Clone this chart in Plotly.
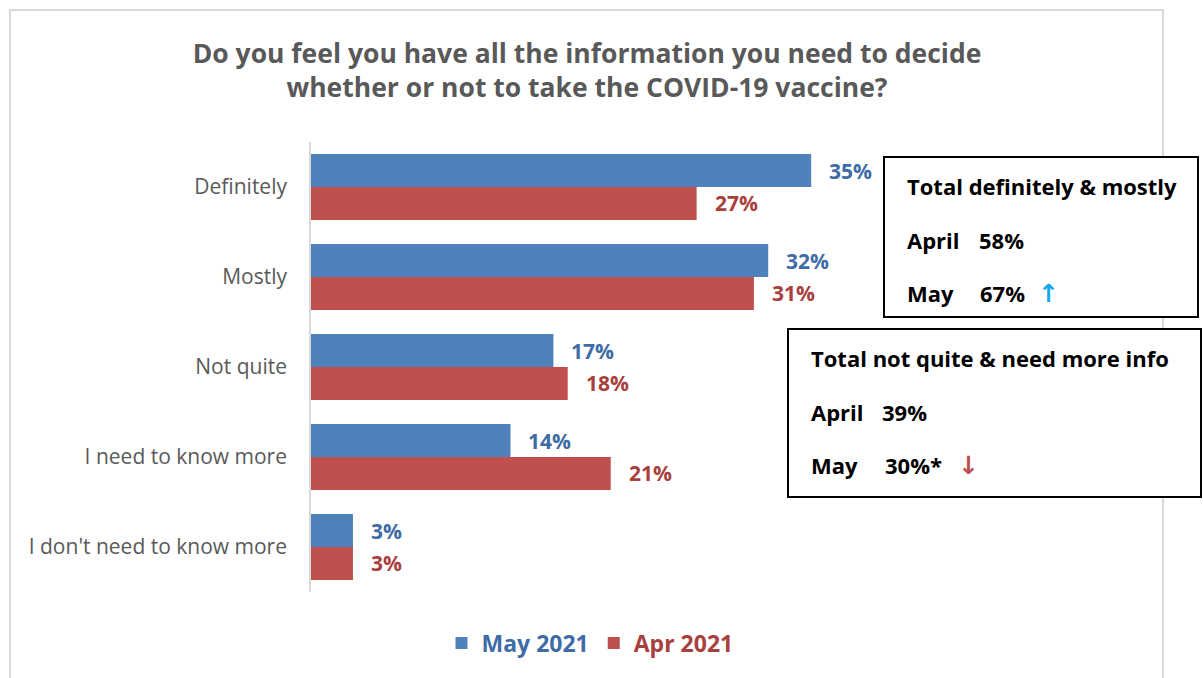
import plotly.graph_objects as go

# Survey responses, share of respondents (%)
categories = ["Definitely", "Mostly", "Not quite", "I need to know more", "I don't need to know more"]
may_2021 = [35, 32, 17, 14, 3]
apr_2021 = [27, 31, 18, 21, 3]

series_names = ["May 2021", "Apr 2021"]
bar_colors = ["#4F81BD", "#C0504D"]
label_colors = ["#3E6CA6", "#A8403D"]

box_titles = ["Total definitely & mostly", "Total not quite & need more info"]
box_april = ["58%", "39%"]
box_may = ["67%", "30%*"]
box_arrows = ["↑", "↓"]
arrow_colors = ["#14A8EC", "#C0504D"]

FONT = "Open Sans"
W, H = 1203, 678
L, R, T, B = 310, 41, 142, 86


def px(x):
    return (x - L) / (W - L - R)


def py(y):
    return (H - B - y) / (H - T - B)


fig = go.Figure()
for name, vals, col, lcol in zip(series_names, [may_2021, apr_2021], bar_colors, label_colors):
    fig.add_trace(go.Bar(
        y=categories, x=vals, orientation="h", name=f"<b><span style='color:{lcol}'>{name}</span></b>",
        marker=dict(color=col, line=dict(width=0)),
    ))

# value labels to the right of each bar
for vals, lcol, off in [(may_2021, label_colors[0], -0.183), (apr_2021, label_colors[1], 0.183)]:
    for c, v in zip(categories, vals):
        fig.add_annotation(
            x=v, y=c, yshift=-off * 90, xanchor="left", xshift=16, showarrow=False,
            text=f"<b>{v}%</b>", font=dict(family=FONT, size=21, color=lcol),
        )

shapes = [
    # outer chart frame
    dict(type="rect", xref="paper", yref="paper", x0=px(10), x1=px(1163), y0=py(700), y1=py(10),
         line=dict(color="#D9D9D9", width=2), fillcolor="rgba(0,0,0,0)", layer="below"),
    # category axis line
    dict(type="line", xref="paper", yref="paper", x0=0, x1=0, y0=0, y1=1,
         line=dict(color="#D9D9D9", width=2)),
]

# summary boxes: frame, then text placed in columns (label, value, arrow)
boxes = [(884, 157, 1198, 317), (788, 329, 1201, 497)]
value_x = [(977, 978), (880, 883)]
arrow_x = [1036, 956]
for i, (x0, y0, x1, y1) in enumerate(boxes):
    shapes.append(dict(type="rect", xref="paper", yref="paper", x0=px(x0), x1=px(x1), y0=py(y1), y1=py(y0),
                       line=dict(color="#000000", width=2), fillcolor="white", layer="above"))
    tx = x0 + 21
    items = [
        (tx, y0 + 29, f"<b>{box_titles[i]}</b>", "#000000", FONT, 22),
        (tx, y0 + 83, "<b>April</b>", "#000000", FONT, 22),
        (value_x[i][0], y0 + 83, f"<b>{box_april[i]}</b>", "#000000", FONT, 22),
        (tx, y0 + 136, "<b>May</b>", "#000000", FONT, 22),
        (value_x[i][1], y0 + 136, f"<b>{box_may[i]}</b>", "#000000", FONT, 22),
        (arrow_x[i], y0 + 136, f"<b>{box_arrows[i]}</b>", arrow_colors[i], "DejaVu Sans", 25),
    ]
    for lx, ly, txt, col, fam, size in items:
        fig.add_annotation(xref="paper", yref="paper", x=px(lx), y=py(ly), xanchor="left", yanchor="middle",
                           showarrow=False, text=txt, font=dict(family=fam, size=size, color=col))

fig.update_layout(
    width=W, height=H,
    margin=dict(l=L, r=R, t=T, b=B),
    paper_bgcolor="white", plot_bgcolor="white",
    barmode="group", bargap=0.267, bargroupgap=0,
    title=dict(
        text="<b>Do you feel you have all the information you need to decide<br>whether or not to take the COVID-19 vaccine?</b>",
        xref="container", x=587 / W, xanchor="center", yref="container", y=1 - 63 / H, yanchor="middle",
        font=dict(family=FONT, size=26.5, color="#595959"),
    ),
    xaxis=dict(range=[0, 59.5], visible=False, fixedrange=True),
    yaxis=dict(autorange="reversed", showline=False, showgrid=False, ticks="", ticklabelstandoff=22,
               tickfont=dict(family=FONT, size=21, color="#595959")),
    legend=dict(orientation="h", x=px(590), xanchor="center", y=py(643), yanchor="middle",
                font=dict(family=FONT, size=23, color="#3E6CA6"), traceorder="normal"),
    showlegend=True,
    shapes=shapes,
)

fig.write_html("out.html")
